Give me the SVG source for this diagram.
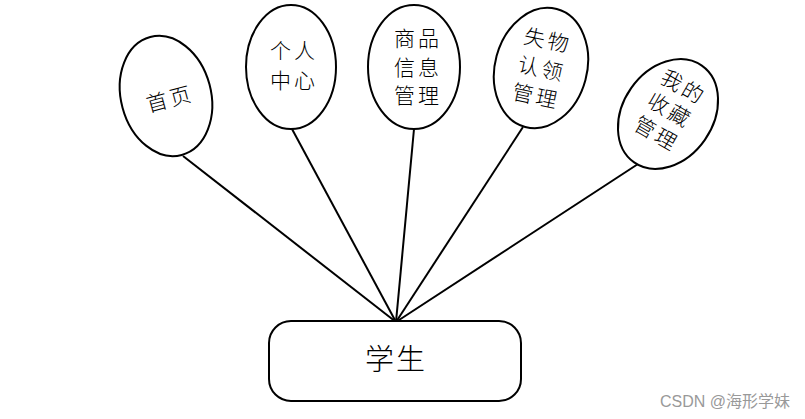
<svg xmlns="http://www.w3.org/2000/svg" width="805" height="419" viewBox="0 0 805 419">
<style>
.n{fill:#fff;stroke:#000;stroke-width:2}
.t{font-family:"Noto Sans CJK SC","Noto Sans CJK JP",sans-serif;font-size:21px;font-weight:300;fill:#000;text-anchor:middle;letter-spacing:3px}
.c{stroke:#000;stroke-width:2;fill:none}
</style>
<rect width="805" height="419" fill="#fff"/>
<g id="connectors">
<line class="c" x1="183" y1="156" x2="396" y2="322"/>
<line class="c" x1="292" y1="129" x2="396" y2="322"/>
<line class="c" x1="414" y1="129" x2="396" y2="322"/>
<line class="c" x1="523" y1="127" x2="396" y2="322"/>
<line class="c" x1="638" y1="164" x2="396" y2="322"/>
</g>
<g id="n1">
<ellipse class="n" cx="166" cy="96" rx="45" ry="61" transform="rotate(-15 166 96)"/>
<text class="t" x="170" y="107" transform="rotate(-15 168 99)">首页</text>
</g>
<g id="n2">
<ellipse class="n" cx="291" cy="67" rx="45" ry="62"/>
<text class="t" x="294" y="58">个人</text>
<text class="t" x="294" y="88">中心</text>
</g>
<g id="n3">
<ellipse class="n" cx="414" cy="67" rx="46" ry="62"/>
<text class="t" x="418" y="46">商品</text>
<text class="t" x="418" y="75">信息</text>
<text class="t" x="418" y="103">管理</text>
</g>
<g id="n4">
<ellipse class="n" cx="541" cy="68" rx="46" ry="61" transform="rotate(15 541 68)"/>
<g transform="rotate(12 540 68)">
<text class="t" x="542" y="47">失物</text>
<text class="t" x="542" y="76">认领</text>
<text class="t" x="542" y="104">管理</text>
</g>
</g>
<g id="n5">
<ellipse class="n" cx="668" cy="114" rx="45" ry="59" transform="rotate(35 668 114)"/>
<g transform="rotate(30 668 110)">
<text class="t" x="670" y="90">我的</text>
<text class="t" x="670" y="117">收藏</text>
<text class="t" x="670" y="144">管理</text>
</g>
</g>
<g id="n6">
<rect class="n" x="269" y="321" width="252" height="80" rx="22"/>
<text x="396" y="370" style="font-family:'Noto Sans CJK SC',sans-serif;font-size:29px;font-weight:300;text-anchor:middle;letter-spacing:2px">学生</text>
</g>
<text x="790" y="407" style="font-family:'Liberation Sans','Noto Sans CJK SC',sans-serif;font-size:16px;fill:#999;text-anchor:end">CSDN @海形学妹</text>
</svg>
